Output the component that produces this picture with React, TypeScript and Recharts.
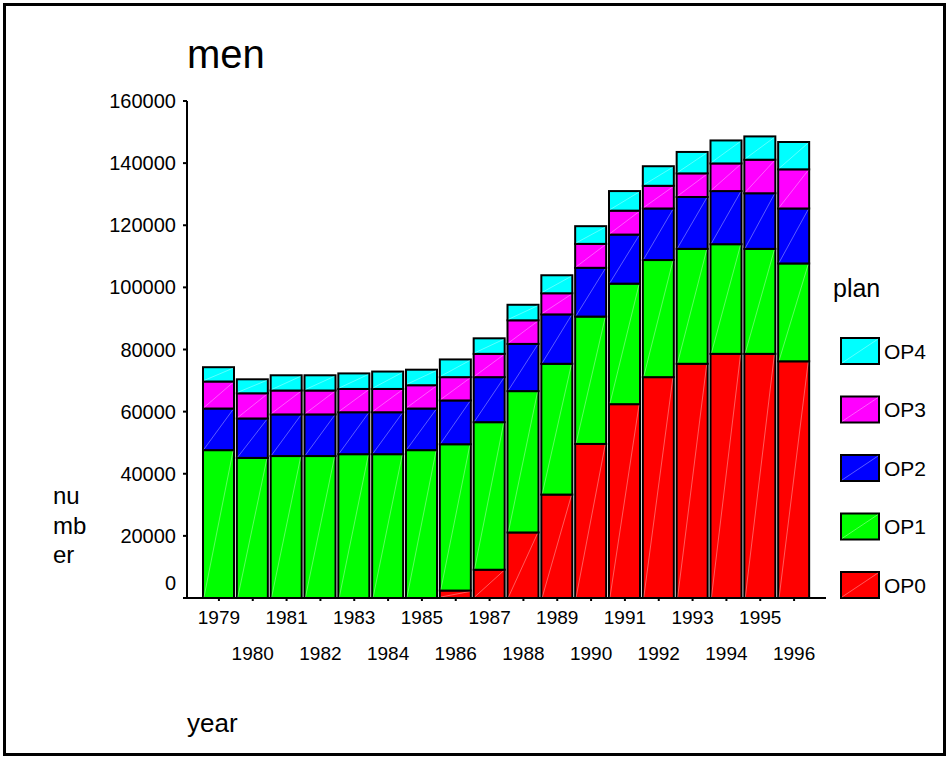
import { Bar, BarChart, Legend, XAxis, YAxis } from "recharts"

const years = [
  "1979", "1980", "1981", "1982", "1983", "1984", "1985", "1986", "1987",
  "1988", "1989", "1990", "1991", "1992", "1993", "1994", "1995", "1996",
]

// bottom to top
const op0 = [0, 0, 0, 0, 0, 0, 0, 2400, 9100, 21100, 33300, 49600, 62400, 71100, 75400, 78600, 78600, 76200]
const op1 = [47600, 45100, 45700, 45700, 46300, 46300, 47600, 47100, 47500, 45500, 42100, 41000, 38800, 37700, 37000, 35300, 33800, 31500]
const op2 = [13400, 12700, 13400, 13400, 13500, 13500, 13400, 14100, 14500, 15200, 15900, 15700, 15800, 16600, 16700, 17100, 17900, 17700]
const op3 = [8700, 8100, 7700, 7700, 7500, 7500, 7500, 7500, 7500, 7600, 6800, 7700, 7700, 7300, 7600, 8900, 10800, 12600]
const op4 = [4600, 4500, 4900, 4900, 5000, 5600, 5000, 5700, 5000, 5000, 5800, 5700, 6300, 6300, 6900, 7400, 7500, 8800]

const yTicks = [0, 20000, 40000, 60000, 80000, 100000, 120000, 140000, 160000]

const seriesKeys = ["OP0", "OP1", "OP2", "OP3", "OP4"]
const seriesColors = ["#ff0000", "#00ff00", "#0000ff", "#ff00ff", "#00ffff"]

const data = years.map((year, i) => ({
  year,
  OP0: op0[i],
  OP1: op1[i],
  OP2: op2[i],
  OP3: op3[i],
  OP4: op4[i],
}))

const FONT = '"Liberation Sans", Arial, sans-serif'

function HatchedBar(props: any) {
  const { x, y, width, height, fill } = props
  if (!height || height <= 0) return null
  return (
    <g>
      <rect x={x} y={y} width={width} height={height} fill={fill} stroke="#000" strokeWidth={2} />
      <line
        x1={x + 1}
        y1={y + height - 1}
        x2={x + width - 1}
        y2={y + 1}
        stroke="#fff"
        strokeOpacity={0.45}
        strokeWidth={0.8}
      />
    </g>
  )
}

function YTick(props: any) {
  const { x, y, payload } = props
  // SPSS lifts the zero label above the baseline
  const dy = payload.value === 0 ? -8 : 7
  return (
    <text x={x} y={y + dy} textAnchor="end" fontSize={20} fontFamily={FONT} fill="#000">
      {payload.value}
    </text>
  )
}

function XTick(props: any) {
  const { x, y, payload, index } = props
  const dy = index % 2 === 0 ? 21 : 57
  return (
    <text x={x} y={y + dy} textAnchor="middle" fontSize={19} fontFamily={FONT} fill="#000">
      {payload.value}
    </text>
  )
}

function PlanLegend() {
  const rows = seriesKeys.map((k, i) => ({ k, color: seriesColors[i] })).reverse()
  return (
    <svg width={115} height={345} style={{ display: "block" }}>
      <text x={8} y={32} fontSize={25} fontFamily={FONT} fill="#000">
        plan
      </text>
      {rows.map((r, i) => {
        const cy = 86 + i * 58.5
        return (
          <g key={r.k}>
            <rect x={16} y={cy - 13} width={38} height={26} fill={r.color} stroke="#000" strokeWidth={2} />
            <line x1={17} y1={cy + 12} x2={53} y2={cy - 12} stroke="#fff" strokeOpacity={0.45} strokeWidth={0.8} />
            <text x={59} y={cy + 7.5} fontSize={21} fontFamily={FONT} fill="#000">
              {r.k}
            </text>
          </g>
        )
      })}
    </svg>
  )
}

export default function App() {
  return (
    <div style={{ position: "absolute", left: 0, top: 0, width: 949, height: 758, background: "#fff", fontFamily: FONT }}>
      <div
        style={{
          position: "absolute",
          left: 3,
          top: 3,
          width: 943,
          height: 753,
          border: "3px solid #000",
          boxSizing: "border-box",
        }}
      />
      <BarChart
        width={949}
        height={758}
        data={data}
        margin={{ top: 101, right: 123, bottom: 100, left: 107 }}
        style={{ position: "absolute", left: 0, top: 0 }}
      >
        <XAxis
          dataKey="year"
          height={60}
          padding={{ left: 15, right: 15 }}
          interval={0}
          tick={<XTick />}
          tickSize={3}
          tickMargin={2}
          axisLine={{ stroke: "#000", strokeWidth: 2 }}
          tickLine={{ stroke: "#000", strokeWidth: 2 }}
        />
        <XAxis
          xAxisId="top"
          dataKey="year"
          orientation="top"
          height={0}
          tick={false}
          tickLine={false}
          axisLine={{ stroke: "#000", strokeWidth: 2 }}
        />
        <YAxis
          width={80}
          domain={[0, 160000]}
          ticks={yTicks}
          interval={0}
          tick={<YTick />}
          tickSize={4}
          tickMargin={7}
          axisLine={{ stroke: "#000", strokeWidth: 2 }}
          tickLine={{ stroke: "#000", strokeWidth: 2 }}
        />
        <YAxis
          yAxisId="right"
          orientation="right"
          width={0}
          domain={[0, 160000]}
          tick={false}
          tickLine={false}
          axisLine={{ stroke: "#000", strokeWidth: 2 }}
        />
        <Legend
          layout="vertical"
          align="center"
          verticalAlign="middle"
          content={() => <PlanLegend />}
          wrapperStyle={{ left: 825, top: 265, width: 115, height: 345 }}
        />
        {seriesKeys.map((k, i) => (
          <Bar
            key={k}
            dataKey={k}
            stackId="plan"
            fill={seriesColors[i]}
            barSize={31}
            shape={<HatchedBar />}
            isAnimationActive={false}
          />
        ))}
      </BarChart>
      <svg width={949} height={758} style={{ position: "absolute", left: 0, top: 0, pointerEvents: "none" }}>
        <text x={187} y={68} fontSize={40} fontFamily={FONT} fill="#000">
          men
        </text>
        <text x={53} y={504} fontSize={24} fontFamily={FONT} fill="#000">
          nu
        </text>
        <text x={53} y={534} fontSize={24} fontFamily={FONT} fill="#000">
          mb
        </text>
        <text x={53} y={563} fontSize={24} fontFamily={FONT} fill="#000">
          er
        </text>
        <text x={187} y={732} fontSize={26} fontFamily={FONT} fill="#000">
          year
        </text>
      </svg>
    </div>
  )
}
